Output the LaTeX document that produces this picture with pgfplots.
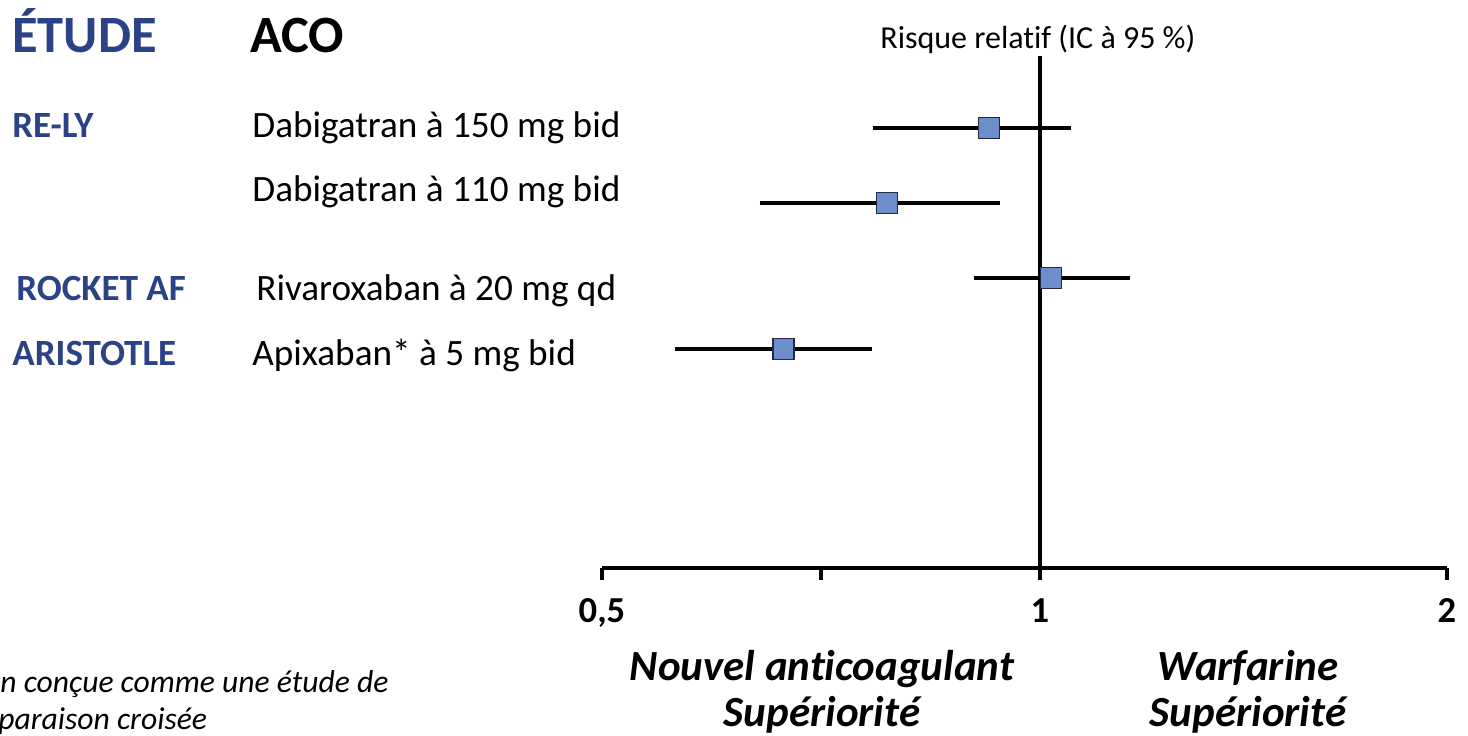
\documentclass[border=0pt]{standalone}
\usepackage{fontspec}
\setmainfont{Carlito}[Ligatures=NoCommon]
\usepackage{pgfplots}
\pgfplotsset{compat=1.18}
\definecolor{studyblue}{RGB}{43,66,135}
\definecolor{sqfill}{RGB}{108,142,203}
\definecolor{sqdraw}{RGB}{35,42,70}
\begin{document}
\begin{tikzpicture}[x=0.5pt,y=-0.5pt]
\useasboundingbox (0,0) rectangle (1468,735);
% headings
\node[anchor=base west,inner sep=0,font=\bfseries\fontsize{26.2}{26.2}\selectfont,text=studyblue] at (12,52) {ÉTUDE};
\node[anchor=base west,inner sep=0,font=\bfseries\fontsize{26.2}{26.2}\selectfont] at (250,52) {ACO};
\node[anchor=base west,inner sep=0,font=\fontsize{16}{16}\selectfont] at (880,48) {Risque relatif (IC à 95~\%)};
% study names
\node[anchor=base west,inner sep=0,font=\bfseries\fontsize{18.5}{18.5}\selectfont,text=studyblue] at (12,137) {RE-LY};
\node[anchor=base west,inner sep=0,font=\bfseries\fontsize{18.5}{18.5}\selectfont,text=studyblue] at (16,300) {ROCKET AF};
\node[anchor=base west,inner sep=0,font=\bfseries\fontsize{18.5}{18.5}\selectfont,text=studyblue] at (12,365) {ARISTOTLE};
% drugs
\node[anchor=base west,inner sep=0,font=\fontsize{18.6}{18.6}\selectfont] at (252,137) {Dabigatran à 150 mg bid};
\node[anchor=base west,inner sep=0,font=\fontsize{18.6}{18.6}\selectfont] at (252,201) {Dabigatran à 110 mg bid};
\node[anchor=base west,inner sep=0,font=\fontsize{18.6}{18.6}\selectfont] at (256,300) {Rivaroxaban à 20 mg qd};
\node[anchor=base west,inner sep=0,font=\fontsize{18.6}{18.6}\selectfont] at (252,365) {Apixaban* à 5 mg bid};
% bottom labels
\node[anchor=base,inner sep=0,font=\bfseries\itshape\fontsize{21.5}{21.5}\selectfont] at (822,680) {Nouvel anticoagulant};
\node[anchor=base,inner sep=0,font=\bfseries\itshape\fontsize{21.5}{21.5}\selectfont] at (822,726) {Supériorité};
\node[anchor=base,inner sep=0,font=\bfseries\itshape\fontsize{21.5}{21.5}\selectfont] at (1248,680) {Warfarine};
\node[anchor=base,inner sep=0,font=\bfseries\itshape\fontsize{21.5}{21.5}\selectfont] at (1248,726) {Supériorité};
% footnote
\node[anchor=base west,inner sep=0,font=\itshape\fontsize{15.8}{15.8}\selectfont] at (0,692) {n conçue comme une étude de};
\node[anchor=base west,inner sep=0,font=\itshape\fontsize{15.8}{15.8}\selectfont] at (-2,729) {paraison croisée};
\begin{axis}[
  at={(301pt,-284pt)}, anchor=south west,
  scale only axis, width=422.5pt, height=256pt,
  xmin=0.5, xmax=2, ymin=-568, ymax=-56,
  x coord trafo/.code={\pgfmathparse{876*(#1-0.5)-469*max(#1-1,0)}},
  x coord inv trafo/.code={\pgfmathparse{#1/876+0.5+0.0013155*max(#1-438,0)}},
  axis x line=bottom, axis y line=none,
  x axis line style={-, line width=1.9pt},
  xtick={0.5,0.75,1,2}, xticklabels={{0,5},{},1,2},
  xtick align=outside, major tick length=6pt,
  every tick/.style={black, line width=1.9pt},
  xticklabel style={font=\bfseries\fontsize{18.3}{18.3}\selectfont, anchor=base, yshift=-21pt},
  xticklabel shift=0pt,
  clip=false,
]
\addplot[black, line width=1.8pt] coordinates {(1,-56) (1,-568)};
\addplot[black, line width=1.9pt] coordinates {(0.809,-128) (1.075,-128)};
\addplot[black, line width=1.9pt] coordinates {(0.680,-203) (0.954,-203)};
\addplot[black, line width=1.9pt] coordinates {(0.925,-278) (1.221,-278)};
\addplot[black, line width=1.9pt] coordinates {(0.583,-349) (0.808,-349)};
\addplot[only marks, mark=square*, mark size=5.25pt, mark options={fill=sqfill, draw=sqdraw, line width=0.7pt}] coordinates {
(0.942,-128) (0.825,-203) (1.027,-278) (0.707,-349)};
\end{axis}
\end{tikzpicture}
\end{document}
